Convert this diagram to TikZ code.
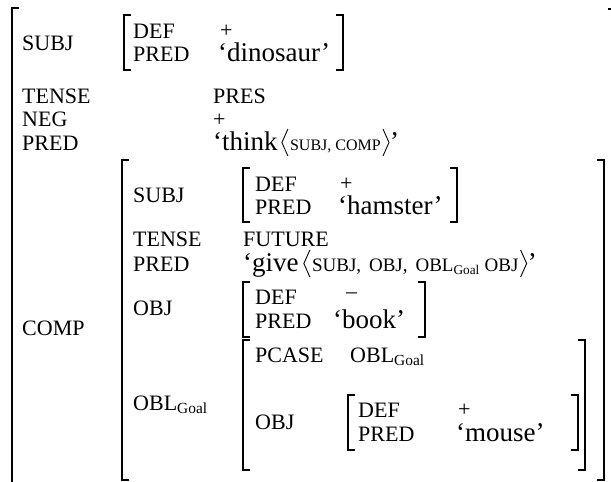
\documentclass[tikz,border=0pt]{standalone}
\usepackage{fontspec}
\setmainfont{Liberation Serif}
\newcommand\lbrk[3]{\draw[brk] (#1+7,#2)--(#1,#2)--(#1,#3)--(#1+7,#3);}
\newcommand\rbrk[3]{\draw[brk] (#1-7,#2)--(#1,#2)--(#1,#3)--(#1-7,#3);}
\tikzset{
  attr/.style={anchor=base west, inner sep=0pt, font=\fontsize{22}{22}\selectfont},
  val/.style={anchor=base west, inner sep=0pt, font=\fontsize{27}{27}\selectfont},
  scap/.style={anchor=base west, inner sep=0pt, font=\fontsize{16}{16}\selectfont},
  gscap/.style={anchor=base west, inner sep=0pt, font=\fontsize{19}{19}\selectfont},
  brk/.style={line width=1.1pt},
  ang/.style={line width=0.9pt},
}
\begin{document}
\begin{tikzpicture}[x=1pt, y=-1pt]
\useasboundingbox (0,0) rectangle (611,482);
\clip (0,0) rectangle (611,482);
\lbrk{12}{8}{500}
\rbrk{615}{9}{500}
\node[attr] (subj) at (22,50) {SUBJ};
\lbrk{124}{15}{70}
\node[attr] (subjdef) at (133,38) {DEF};
\node[attr] (subjdefv) at (220,37) {+};
\node[attr] (subjpred) at (133,61) {PRED};
\node[val] (subjpredv) at (218,61) {‘dinosaur’};
\rbrk{343}{15}{70}
\node[attr] (tense) at (22,103) {TENSE};
\node[attr] (tensev) at (213,103) {PRES};
\node[attr] (neg) at (22,126) {NEG};
\node[attr] (negv) at (213,126) {+};
\node[attr] (pred) at (22,150) {PRED};
\node[val] (think) at (213,150) {‘think};
\node[scap] (thinkarg) at ([xshift=12pt]think.base east) {SUBJ, COMP};
\draw[ang] (thinkarg.base west) ++(-2,-21) -- ++(-6,13.5) -- ++(6,13.5);
\draw[ang] (thinkarg.base east) ++(2,-21) -- ++(6,13.5) -- ++(-6,13.5);
\node[val] (thinkq) at ([xshift=9pt]thinkarg.base east) {’};
\node[attr] (comp) at (22,335) {COMP};
\lbrk{122}{160}{480}
\rbrk{604}{160}{480}
\node[attr] (csubj) at (133,202) {SUBJ};
\lbrk{243}{168}{222}
\node[attr] (csubjdef) at (255,191) {DEF};
\node[attr] (csubjdefv) at (340,190) {+};
\node[attr] (csubjpred) at (255,214) {PRED};
\node[val] (csubjpredv) at (338,214) {‘hamster’};
\rbrk{457}{168}{222}
\node[attr] (ctense) at (133,246) {TENSE};
\node[attr] (ctensev) at (243,246) {FUTURE};
\node[attr] (cpred) at (133,271) {PRED};
\node[val] (give) at (243,271) {‘give};
\node[gscap] (givearg) at ([xshift=13pt]give.base east) {SUBJ,\, OBJ,\, OBL\textsubscript{Goal} OBJ};
\draw[ang] (givearg.base west) ++(-2,-21) -- ++(-6,13.5) -- ++(6,13.5);
\draw[ang] (givearg.base east) ++(2,-21) -- ++(6,13.5) -- ++(-6,13.5);
\node[val] (giveq) at ([xshift=9pt]givearg.base east) {’};
\node[attr] (cobj) at (133,315) {OBJ};
\lbrk{243}{282}{337}
\node[attr] (cobjdef) at (255,304) {DEF};
\node[attr] (cobjdefv) at (346,298) {–};
\node[attr] (cobjpred) at (255,328) {PRED};
\node[val] (cobjpredv) at (333,328) {‘book’};
\rbrk{425}{282}{337}
\node[attr] (cobl) at (133,410) {OBL\textsubscript{Goal}};
\lbrk{243}{340}{470}
\node[attr] (cpcase) at (255,362) {PCASE};
\node[attr] (cpcasev) at (350,362) {OBL\textsubscript{Goal}};
\node[attr] (coblobj) at (255,429) {OBJ};
\lbrk{348}{395}{450}
\node[attr] (coblobjdef) at (358,417) {DEF};
\node[attr] (coblobjdefv) at (458,416) {+};
\node[attr] (coblobjpred) at (358,441) {PRED};
\node[val] (coblobjpredv) at (456,441) {‘mouse’};
\rbrk{578}{395}{450}
\rbrk{585}{340}{470}
\end{tikzpicture}
\end{document}
